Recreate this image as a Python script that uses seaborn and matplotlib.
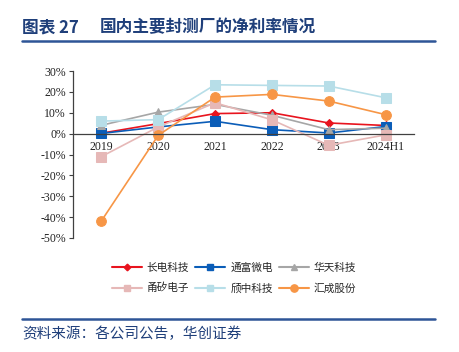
import matplotlib
matplotlib.use("Agg")
import matplotlib.pyplot as plt
import matplotlib.lines as mlines
import seaborn as sns
import pandas as pd

years = ["2019", "2020", "2021", "2022", "2023", "2024H1"]
changdian = [0.2, 4.8, 9.6, 10.0, 5.1, 3.9]
tongfu = [0.1, 3.2, 5.9, 1.9, 0.3, 3.4]
huatian = [4.0, 10.3, 14.0, 8.8, 1.9, 2.6]
yongxi = [-11.0, 3.2, 14.8, 6.6, -5.6, -0.6]
qizhong = [6.0, 6.7, 23.4, 23.1, 22.8, 17.2]
huicheng = [-41.8, -0.8, 17.5, 18.8, 15.6, 9.1]

names = ["长电科技", "通富微电", "华天科技", "甬矽电子", "颀中科技", "汇成股份"]
series = [changdian, tongfu, huatian, yongxi, qizhong, huicheng]
colors = ["#E8141E", "#0B5DB8", "#A6A6A6", "#E6B8B7", "#B7DEE8", "#F79646"]
markers = ["D", "s", "^", "s", "s", "o"]
msizes = [4.5, 6.5, 6, 6.5, 6.5, 7]
yticks = [30, 20, 10, 0, -10, -20, -30, -40, -50]

sns.set_style("white")
plt.rcParams["font.family"] = ["Noto Sans CJK SC", "DejaVu Sans"]

fig = plt.figure(figsize=(4.59, 3.52), dpi=100)
ax = fig.add_axes([73/459, 1-238/352, (414-73)/459, (238-71)/352])

df = pd.DataFrame({
    "year": years * len(names),
    "value": [v for s in series for v in s],
    "company": [n for n in names for _ in years],
})

handles = []
for n, c, m, ms in zip(names, colors, markers, msizes):
    sub = df[df["company"] == n]
    sns.lineplot(data=sub, x="year", y="value", ax=ax, color=c, marker=m,
                 markersize=ms, markeredgecolor=c, linewidth=1.2, sort=False,
                 legend=False)
    handles.append(mlines.Line2D([], [], color=c, marker=m, markersize=ms*0.75,
                                 markeredgecolor=c, linewidth=1.5, label=n))

ax.set_xlim(-0.5, len(years) - 0.5)
ax.set_ylim(-50, 30)
ax.set_yticks(yticks)
ax.set_yticklabels([f"{t}%" for t in yticks])
ax.set_xticks(range(len(years)))
ax.set_xticklabels(years)
ax.set_xticks([i - 0.5 for i in range(len(years) + 1)], minor=True)
ax.tick_params(axis="x", which="major", length=0, pad=5)
ax.tick_params(axis="x", which="minor", length=3, direction="out", color="#404040")
ax.tick_params(axis="y", length=3, direction="out", color="#404040", pad=2, left=True)
ax.tick_params(axis="both", which="both", labelfontfamily="Liberation Serif",
               labelsize=8.5, labelcolor="#222222")
ax.spines["top"].set_visible(False)
ax.spines["right"].set_visible(False)
ax.spines["bottom"].set_position(("data", 0))
for s in ["left", "bottom"]:
    ax.spines[s].set_color("#404040")
    ax.spines[s].set_linewidth(0.9)
ax.set_xlabel("")
ax.set_ylabel("")
ax.grid(False)

order = [0, 3, 1, 4, 2, 5]
leg = fig.legend([handles[i] for i in order], [names[i] for i in order],
                 ncol=3, loc="center", bbox_to_anchor=(234/459, 1-278/352),
                 frameon=False, fontsize=7.7, handlelength=2.8, columnspacing=0.6,
                 handletextpad=0.45, labelspacing=0.95)

title_color = "#1F3F7A"
fig.text(22/459, 1-27/352, "图表 27", fontsize=12, fontweight="bold",
         color=title_color, va="center", ha="left")
fig.text(100/459, 1-27/352, "国内主要封测厂的净利率情况", fontsize=12,
         fontweight="bold", color=title_color, va="center", ha="left")
fig.add_artist(mlines.Line2D([22/459, 435/459], [1-41/352, 1-41/352],
                             color="#2E5597", linewidth=1.8))
fig.add_artist(mlines.Line2D([22/459, 435/459], [1-319/352, 1-319/352],
                             color="#2E5597", linewidth=1.8))
fig.text(22/459, 1-334/352, "资料来源：各公司公告，华创证券", fontsize=10.5,
         color=title_color, va="center", ha="left", style="italic")

fig.savefig("out.png", dpi=100)
